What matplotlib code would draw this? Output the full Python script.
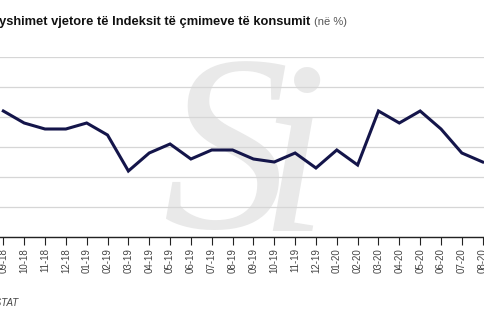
import matplotlib
matplotlib.use("Agg")
import matplotlib.pyplot as plt

# Annual CPI change, Sep 2018 - Aug 2020 (%)
months = ["09-18", "10-18", "11-18", "12-18", "01-19", "02-19", "03-19", "04-19",
          "05-19", "06-19", "07-19", "08-19", "09-19", "10-19", "11-19", "12-19",
          "01-20", "02-20", "03-20", "04-20", "05-20", "06-20", "07-20", "08-20"]
cpi_change = [2.1, 1.9, 1.8, 1.8, 1.9, 1.7, 1.1, 1.4,
              1.55, 1.3, 1.45, 1.45, 1.3, 1.25, 1.4, 1.15,
              1.45, 1.2, 2.1, 1.9, 2.1, 1.8, 1.4, 1.25]
y_ticks = [0, 0.5, 1.0, 1.5, 2.0, 2.5, 3.0]

font = "Liberation Sans"
W, H = 485, 325
fig = plt.figure(figsize=(W / 100, H / 100), dpi=100)

# axes laid out in pixel units, slightly wider than the canvas
left_px, right_px = -7.1, 493.1
top_px, bottom_px = 57, 237
ax = fig.add_axes([left_px / W, 1 - bottom_px / H,
                   (right_px - left_px) / W, (bottom_px - top_px) / H])

x = list(range(len(months)))
ax.plot(x, cpi_change, color="#14154a", linewidth=2.2, solid_joinstyle="miter", zorder=3)

ax.set_xlim(-0.5, len(months) - 0.5)
ax.set_ylim(0, 3.0)
ax.set_yticks(y_ticks)
ax.grid(axis="y", color="#d6d6d6", linewidth=0.9)
ax.set_axisbelow(True)
for side in ["top", "right", "left"]:
    ax.spines[side].set_visible(False)
ax.spines["bottom"].set_color("#222222")
ax.spines["bottom"].set_linewidth(1.0)
ax.tick_params(axis="y", left=False, labelleft=False)
ax.set_xticks(x)
ax.set_xticklabels(months, rotation=90, fontsize=7, color="#444444", family=font)
ax.tick_params(axis="x", length=6, width=0.8, color="#222222", pad=2)

# faint "Si" logo behind the grid
logo = dict(transform=fig.transFigure, family="Liberation Serif", style="italic",
            color="#e9e9e9", va="baseline", ha="center", zorder=0.1, clip_on=False)
ax.text(225 / W, 1 - 228 / H, "S", fontsize=182, **logo)
ax.text(293 / W, 1 - 231 / H, "i", fontsize=178, **logo)

fig.text(310 / W, 1 - 22 / H, "Ndryshimet vjetore të Indeksit të çmimeve të konsumit",
         fontsize=9.3, fontweight="bold", family=font, color="#111111",
         ha="right", va="center")
fig.text(314 / W, 1 - 22 / H, "(në %)", fontsize=8, family=font,
         color="#555555", ha="left", va="center")
fig.text(18 / W, 1 - 303 / H, "Burimi: INSTAT", fontsize=7, family=font,
         style="italic", color="#444444", ha="right", va="center")

fig.savefig("out.png", dpi=100)
